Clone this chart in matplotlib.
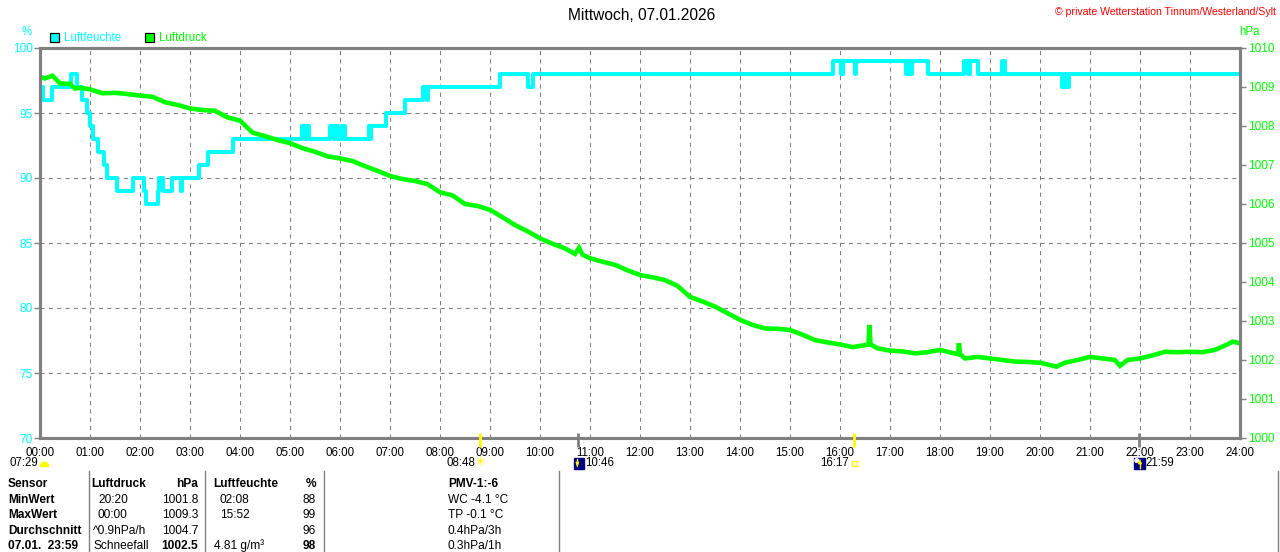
import matplotlib
matplotlib.use('Agg')
import matplotlib.pyplot as plt
from matplotlib.patches import Rectangle, Wedge, Polygon, Circle

plt.rcParams['font.family'] = ['Liberation Sans', 'DejaVu Sans']

# ---------------- data ----------------
title = "Mittwoch, 07.01.2026"
credit = "\u00a9 private Wetterstation Tinnum/Westerland/Sylt"

hum_t = [0.00, 0.05, 0.23, 0.61, 0.73, 0.83, 0.93, 1.00, 1.05, 1.15, 1.27, 1.33,
         1.53, 1.85, 2.08, 2.12, 2.35, 2.37, 2.46, 2.64, 2.81, 2.83, 3.18, 3.35,
         3.85, 5.24, 5.30, 5.31, 5.37, 5.80, 5.87, 5.89, 5.95, 6.03, 6.10, 6.57,
         6.60, 6.62, 6.92, 7.30, 7.65, 7.73, 7.76, 9.20, 9.76, 9.86, 15.85, 16.02,
         16.05, 16.30, 16.33, 17.32, 17.36, 17.40, 17.43, 17.75, 18.49, 18.56,
         18.59, 18.75, 19.23, 19.30, 20.44, 20.50, 20.52, 20.58, 24.00]
hum_v = [97, 96, 97, 98, 97, 96, 95, 94, 93, 92, 91, 90,
         89, 90, 89, 88, 89, 90, 89, 90, 89, 90, 91, 92,
         93, 94, 93, 94, 93, 94, 93, 94, 93, 94, 93, 94,
         93, 94, 95, 96, 97, 96, 97, 98, 97, 98, 99, 98,
         99, 98, 99, 98, 99, 98, 99, 98, 99, 98,
         99, 98, 99, 98, 97, 98, 97, 98, 98]

pres_t = [0.0, 0.1, 0.25, 0.4, 0.6, 0.7, 0.8, 1.0, 1.25, 1.5, 1.75, 2.0, 2.25,
          2.5, 2.75, 3.0, 3.25, 3.5, 3.75, 4.0, 4.25, 4.5, 4.75, 5.0, 5.25,
          5.5, 5.75, 6.0, 6.25, 6.5, 6.75, 7.0, 7.25, 7.5, 7.75, 8.0, 8.25,
          8.5, 8.75, 9.0, 9.25, 9.5, 9.75, 10.0, 10.25, 10.5, 10.7, 10.78,
          10.85, 11.0, 11.25, 11.5, 11.75, 12.0, 12.25, 12.5, 12.75, 13.0,
          13.25, 13.5, 13.75, 14.0, 14.25, 14.5, 14.75, 15.0, 15.25, 15.5,
          15.75, 16.0, 16.25, 16.5, 16.57, 16.59, 16.61, 16.75, 17.0, 17.25,
          17.5, 17.75, 18.0, 18.25, 18.36, 18.38, 18.40, 18.5, 18.75, 19.0,
          19.25, 19.5, 19.75, 20.0, 20.33, 20.5, 20.75, 21.0, 21.25, 21.5,
          21.6, 21.75, 22.0, 22.25, 22.5, 22.75, 23.0, 23.25, 23.5, 23.75,
          23.85, 24.0]
pres_v = [1009.26, 1009.22, 1009.29, 1009.09, 1009.08, 1008.96, 1008.98, 1008.94,
          1008.84, 1008.85, 1008.82, 1008.78, 1008.75, 1008.61, 1008.54, 1008.45,
          1008.41, 1008.39, 1008.22, 1008.14, 1007.83, 1007.74, 1007.64, 1007.56,
          1007.43, 1007.34, 1007.22, 1007.17, 1007.10, 1006.97, 1006.85, 1006.72,
          1006.64, 1006.59, 1006.51, 1006.30, 1006.22, 1006.00, 1005.95, 1005.85,
          1005.66, 1005.46, 1005.30, 1005.12, 1004.98, 1004.86, 1004.72, 1004.88,
          1004.70, 1004.61, 1004.52, 1004.44, 1004.30, 1004.18, 1004.12, 1004.05,
          1003.90, 1003.62, 1003.50, 1003.37, 1003.20, 1003.03, 1002.90, 1002.81,
          1002.80, 1002.77, 1002.65, 1002.51, 1002.45, 1002.40, 1002.33, 1002.38,
          1002.40, 1002.90, 1002.40, 1002.30, 1002.24, 1002.22, 1002.17, 1002.20,
          1002.26, 1002.18, 1002.15, 1002.43, 1002.15, 1002.04, 1002.08, 1002.04,
          1002.00, 1001.96, 1001.95, 1001.93, 1001.83, 1001.93, 1002.00, 1002.08,
          1002.04, 1002.00, 1001.85, 1002.00, 1002.04, 1002.12, 1002.21, 1002.20,
          1002.21, 1002.20, 1002.26, 1002.40, 1002.47, 1002.43]

hour_ticks = list(range(25))
hour_labels = ["%02d:00" % h for h in hour_ticks]
hum_ticks = [70, 75, 80, 85, 90, 95, 100]
pres_ticks = [1000, 1001, 1002, 1003, 1004, 1005, 1006, 1007, 1008, 1009, 1010]

# astronomical events: (hour, label)
ev_dawn = (7 + 29 / 60, "07:29")
ev_sunrise = (8 + 48 / 60, "08:48")
ev_moonset = (10 + 46 / 60, "10:46")
ev_sunset = (16 + 17 / 60, "16:17")
ev_moonrise = (21 + 59 / 60, "21:59")

table_rows = [
    ["Sensor", "Luftdruck", "hPa", "Luftfeuchte", "%", "PMV-1:-6"],
    ["MinWert", "20:20", "1001.8", "02:08", "88", "WC -4.1 \u00b0C"],
    ["MaxWert", "00:00", "1009.3", "15:52", "99", "TP -0.1 \u00b0C"],
    ["Durchschnitt", "^0.9hPa/h", "1004.7", "", "96", "0.4hPa/3h"],
    ["07.01.  23:59", "Schneefall", "1002.5", "4.81 g/m\u00b3", "98", "0.3hPa/1h"],
]

# ---------------- style ----------------
W, H = 1280, 552
CYAN = '#00FFFF'
GREEN = '#00FF00'
GRAY = '#808080'
YELLOW = '#FFFF00'
NAVY = '#000080'
FS = 8.3

fig = plt.figure(figsize=(W / 100, H / 100), dpi=100)
fig.patch.set_facecolor('white')

L, R, T, B = 40, 1240, 48, 438
ax = fig.add_axes([L / W, 1 - B / H, (R - L) / W, (B - T) / H])
ax.set_xlim(0, 24)
ax.set_ylim(70, 100)
ax.set_xticks(hour_ticks)
ax.set_xticklabels(hour_labels)
ax.set_yticks(hum_ticks)
ax.grid(True, color=GRAY, linestyle=(0, (4, 4)), linewidth=0.75)
ax.tick_params(axis='x', length=0, pad=6.5, labelsize=FS, labelcolor='black')
ax.tick_params(axis='y', color=GRAY, labelcolor=CYAN, length=4, width=1,
               pad=1, labelsize=FS + 0.3)
ax.plot(hum_t, hum_v, drawstyle='steps-post', color=CYAN, lw=2.9, zorder=3)

ax2 = ax.twinx()
ax2.set_ylim(1000, 1010)
ax2.set_yticks(pres_ticks)
ax2.set_yticklabels([str(p) for p in pres_ticks])
ax2.tick_params(axis='y', color=GRAY, labelcolor=GREEN, length=4, width=1,
                pad=2, labelsize=FS + 0.3)
ax2.plot(pres_t, pres_v, color=GREEN, lw=3.3, solid_joinstyle='miter')

for a in (ax, ax2):
    for s in a.spines.values():
        s.set_color(GRAY)
        s.set_linewidth(2.2)

# ---------------- overlay (pixel coordinates) ----------------
ov = fig.add_axes([0, 0, 1, 1], zorder=5)
ov.set_xlim(0, W)
ov.set_ylim(H, 0)
ov.set_axis_off()


def hx(h):
    return L + (R - L) * h / 24.0


ov.text(642, 15, title, ha='center', va='center', fontsize=11.2, color='black')
ov.text(1276, 12, credit, ha='right', va='center', fontsize=7.6, color='red')
ov.text(27, 32, "%", ha='center', va='center', fontsize=FS, color=CYAN)
ov.text(1250, 32, "hPa", ha='center', va='center', fontsize=FS, color=GREEN)

# legend
ov.add_patch(Rectangle((50, 33), 9, 9, facecolor=CYAN, edgecolor='black', lw=0.9))
ov.text(64, 38, "Luftfeuchte", ha='left', va='center', fontsize=FS, color=CYAN)
ov.add_patch(Rectangle((145, 33), 9, 9, facecolor=GREEN, edgecolor='black', lw=0.9))
ov.text(159, 38, "Luftdruck", ha='left', va='center', fontsize=FS, color=GREEN)

# event ticks
for (h, _), col in ((ev_sunrise, YELLOW), (ev_sunset, YELLOW),
                    (ev_moonset, GRAY), (ev_moonrise, GRAY)):
    ov.plot([hx(h), hx(h)], [433, 447], color=col, lw=2.0, solid_capstyle='butt')

ey = 463
# dawn (07:29) at left edge
ov.text(38, ey, ev_dawn[1], ha='right', va='center', fontsize=FS, color='black')
ov.add_patch(Wedge((44.5, 466.5), 4.2, 180, 360, facecolor=YELLOW, edgecolor=YELLOW))
# sunrise
x = hx(ev_sunrise[0])
ov.text(x - 5, ey, ev_sunrise[1], ha='right', va='center', fontsize=FS, color='black')
ov.text(x + 1, ey, "\u2600", ha='center', va='center', fontsize=9,
        family='DejaVu Sans', color=YELLOW)
# moonset
x = hx(ev_moonset[0])
ov.add_patch(Rectangle((x - 4.5, 458), 10, 11, facecolor=NAVY, edgecolor=NAVY))
ov.add_patch(Polygon([(x - 2.5, 462), (x + 0.5, 462), (x - 1, 467)],
                     facecolor=YELLOW, edgecolor=YELLOW, lw=0.5))
ov.plot([x - 1, x - 1], [459, 463], color=YELLOW, lw=1)
ov.text(x + 6.5, ey, ev_moonset[1], ha='left', va='center', fontsize=FS, color='black')
# sunset
x = hx(ev_sunset[0])
ov.text(x - 5, ey, ev_sunset[1], ha='right', va='center', fontsize=FS, color='black')
ov.add_patch(Rectangle((x - 2, 460.5), 5, 5, facecolor='none', edgecolor=YELLOW, lw=1))
# moonrise
x = hx(ev_moonrise[0])
ov.add_patch(Rectangle((x - 5, 458), 11, 11, facecolor=NAVY, edgecolor=NAVY))
ov.add_patch(Circle((x - 2.5, 460.5), 1.8, facecolor='white', edgecolor='white'))
ov.add_patch(Polygon([(x - 1, 464), (x + 2.5, 464), (x + 0.75, 459.5)],
                     facecolor=YELLOW, edgecolor=YELLOW, lw=0.5))
ov.plot([x + 0.75, x + 0.75], [463, 468], color=YELLOW, lw=1)
ov.text(x + 6.5, ey, ev_moonrise[1], ha='left', va='center', fontsize=FS, color='black')

# table separators
for sx in (89, 205, 324, 559, 1278):
    ov.plot([sx, sx], [471, H], color=GRAY, lw=1)

row_y = [484, 500, 515.5, 531, 546]
col1_x = [91, 98, 98, 93, 93]
col3_x = [213, 220, 220, 213, 214]
for i, row in enumerate(table_rows):
    y = row_y[i]
    hdr = 'bold' if i == 0 else 'normal'
    ov.text(8, y, row[0], ha='left', va='center', fontsize=FS + 0.3,
            fontweight='bold', color='black')
    ov.text(col1_x[i], y, row[1], ha='left', va='center', fontsize=FS + 0.3,
            fontweight=hdr, color='black')
    w2 = 'bold' if i in (0, 4) else 'normal'
    ov.text(198, y, row[2], ha='right', va='center', fontsize=FS + 0.3,
            fontweight=w2, color='black')
    ov.text(col3_x[i], y, row[3], ha='left', va='center', fontsize=FS + 0.3,
            fontweight=hdr, color='black')
    ov.text(316, y, row[4], ha='right', va='center', fontsize=FS + 0.3,
            fontweight=w2, color='black')
    ov.text(448, y, row[5], ha='left', va='center', fontsize=FS + 0.3,
            fontweight=hdr, color='black')

fig.savefig('out.png', dpi=100, facecolor='white')
